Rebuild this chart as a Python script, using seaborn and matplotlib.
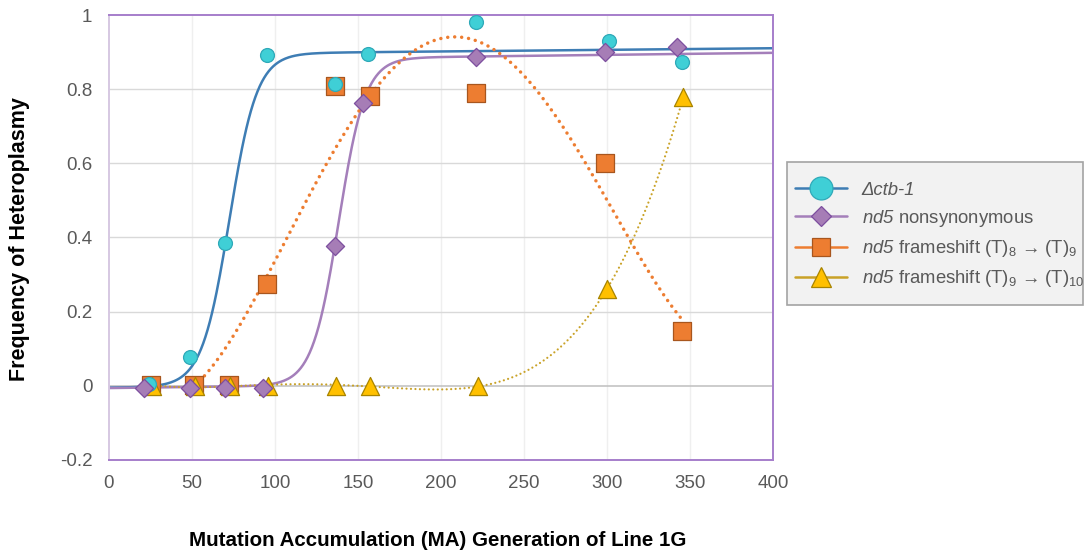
import numpy as np
import pandas as pd
import matplotlib
matplotlib.use("Agg")
import matplotlib.pyplot as plt
from matplotlib.lines import Line2D
from matplotlib.patches import Rectangle
import seaborn as sns

# Heteroplasmy frequency per MA generation, line 1G
ctb_gen = [24, 49, 70, 95, 136, 156, 221, 301, 345]
ctb_freq = [0.005, 0.078, 0.386, 0.892, 0.814, 0.895, 0.981, 0.930, 0.873]

nonsyn_gen = [21, 49, 70, 93, 136, 153, 221, 299, 342]
nonsyn_freq = [-0.005, -0.005, -0.005, -0.005, 0.377, 0.763, 0.887, 0.900, 0.914]

fs89_gen = [25, 51, 72, 95, 136, 157, 221, 299, 345]
fs89_freq = [0.003, 0.003, 0.003, 0.275, 0.809, 0.782, 0.790, 0.601, 0.148]

fs910_gen = [26, 52, 73, 96, 137, 157, 222, 300, 346]
fs910_freq = [0.0, 0.0, 0.0, 0.0, 0.0, 0.0, 0.0, 0.26, 0.78]

# Sigmoid trend parameters: baseline, amplitude, midpoint, scale, plateau drift
ctb_sigmoid = (-0.005, 0.898, 72.5, 8.3, 4.35e-5)
nonsyn_sigmoid = (-0.006, 0.882, 138.4, 8.0, 5.5e-5)
poly_order = 4

x_ticks = [0, 50, 100, 150, 200, 250, 300, 350, 400]
y_ticks = [-0.2, 0, 0.2, 0.4, 0.6, 0.8, 1.0]

ARROW = "\u2192"
labels = [
    "\u0394ctb-1",
    r"$\mathsf{nd5}$ nonsynonymous",
    r"$\mathsf{nd5}$ frameshift (T)$_{8}$ " + ARROW + r" (T)$_{9}$",
    r"$\mathsf{nd5}$ frameshift (T)$_{9}$ " + ARROW + r" (T)$_{10}$",
]

sns.set_theme(style="white")
plt.rcParams["font.family"] = ["Liberation Sans", "DejaVu Sans"]
plt.rcParams["mathtext.fontset"] = "custom"
plt.rcParams["mathtext.rm"] = "Liberation Sans"
plt.rcParams["mathtext.sf"] = "Liberation Sans:italic"
plt.rcParams["mathtext.it"] = "Liberation Sans:italic"
plt.rcParams["mathtext.default"] = "regular"
plt.rcParams["axes.unicode_minus"] = False

C_CTB_LINE, C_CTB_FILL, C_CTB_EDGE = "#3E7DB4", "#3FCFD6", "#2FA9B8"
C_NS_LINE, C_NS_FILL, C_NS_EDGE = "#A47FBA", "#A67DB6", "#7D4E9F"
C_F8_LINE, C_F8_FILL, C_F8_EDGE = "#ED7D31", "#ED7D31", "#A8561E"
C_F9_LINE, C_F9_FILL, C_F9_EDGE = "#C9A227", "#FFC000", "#A88400"
TXT = "#595959"


def sigmoid(x, p):
    base, amp, mid, scale, drift = p
    return base + amp / (1.0 + np.exp(-(x - mid) / scale)) + drift * x


fig = plt.figure(figsize=(10.84, 5.57), dpi=100)
ax = fig.add_axes([109 / 1084, 1 - 460 / 557, 664 / 1084, 445 / 557])

# Trend curves
xs_full = np.linspace(0, 400, 600)
sig_df = pd.DataFrame({
    "x": np.concatenate([xs_full, xs_full]),
    "y": np.concatenate([sigmoid(xs_full, ctb_sigmoid), sigmoid(xs_full, nonsyn_sigmoid)]),
    "s": ["ctb"] * len(xs_full) + ["nonsyn"] * len(xs_full),
})
sns.lineplot(data=sig_df[sig_df.s == "ctb"], x="x", y="y", ax=ax, color=C_CTB_LINE,
             lw=1.8, zorder=2, estimator=None, sort=False)
sns.lineplot(data=sig_df[sig_df.s == "nonsyn"], x="x", y="y", ax=ax, color=C_NS_LINE,
             lw=1.8, zorder=2, estimator=None, sort=False)

xo = np.linspace(min(fs89_gen), max(fs89_gen), 400)
yo = np.polyval(np.polyfit(fs89_gen, fs89_freq, poly_order), xo)
n_before = len(ax.lines)
sns.lineplot(x=xo, y=yo, ax=ax, color=C_F8_LINE, lw=2.5, linestyle=(0, (0.01, 2.0)),
             dash_capstyle="round", zorder=2, estimator=None, sort=False)
# the frameshift (T)8 trend is only shown above the zero baseline
baseline_clip = Rectangle((0, 0), 400, 1.2, transform=ax.transData)
for ln in ax.lines[n_before:]:
    ln.set_clip_path(baseline_clip)

xy = np.linspace(min(fs910_gen), max(fs910_gen), 400)
yy = np.polyval(np.polyfit(fs910_gen, fs910_freq, poly_order), xy)
sns.lineplot(x=xy, y=yy, ax=ax, color=C_F9_LINE, lw=1.6, linestyle=(0, (0.01, 2.0)),
             dash_capstyle="round", zorder=2, estimator=None, sort=False)

# Data markers
sns.scatterplot(x=fs89_gen, y=fs89_freq, ax=ax, marker="s", s=160, color=C_F8_FILL,
                edgecolor=C_F8_EDGE, linewidth=0.9, zorder=3)
sns.scatterplot(x=fs910_gen, y=fs910_freq, ax=ax, marker="^", s=170, color=C_F9_FILL,
                edgecolor=C_F9_EDGE, linewidth=0.9, zorder=4)
sns.scatterplot(x=ctb_gen, y=ctb_freq, ax=ax, marker="o", s=100, color=C_CTB_FILL,
                edgecolor=C_CTB_EDGE, linewidth=0.9, zorder=5)
sns.scatterplot(x=nonsyn_gen, y=nonsyn_freq, ax=ax, marker="D", s=86, color=C_NS_FILL,
                edgecolor=C_NS_EDGE, linewidth=0.9, zorder=6)

# Axes styling
ax.set_xlim(0, 400)
ax.set_ylim(-0.2, 1.0)
ax.set_xticks(x_ticks)
ax.set_yticks(y_ticks)
ax.set_xticklabels([f"{v:g}" for v in x_ticks])
ax.set_yticklabels([f"{v:g}" for v in y_ticks])
ax.tick_params(axis="both", length=0, labelsize=13.5, labelcolor=TXT)
ax.tick_params(axis="y", pad=12)
ax.tick_params(axis="x", pad=11)
ax.set_xlabel("")
ax.set_ylabel("")
for v in x_ticks[1:-1]:
    ax.axvline(v, color="#EFEFEF", lw=1.0, zorder=0)
for v in y_ticks:
    if v not in (-0.2, 0, 1.0):
        ax.axhline(v, color="#D9D9D9", lw=1.0, zorder=0)
ax.axhline(0, color="#BFBFBF", lw=1.1, zorder=1)
for side in ("top", "right", "bottom"):
    ax.spines[side].set_color("#A67ECB")
    ax.spines[side].set_linewidth(1.4)
ax.spines["left"].set_color("#D6C8E2")
ax.spines["left"].set_linewidth(1.4)

fig.text(438 / 1084, 1 - 540 / 557, "Mutation Accumulation (MA) Generation of Line 1G",
         ha="center", va="center", fontsize=14.8, fontweight="bold", color="black")
fig.text(20 / 1084, 1 - 239 / 557, "Frequency of Heteroplasmy", rotation=90,
         ha="center", va="center", fontsize=15.5, fontweight="bold", color="black")

# Legend panel
fig.patches.append(Rectangle((787 / 1084, 1 - 305 / 557), 296 / 1084, 143 / 557,
                             transform=fig.transFigure, facecolor="#F2F2F2",
                             edgecolor="#A3A3A3", lw=1.2, zorder=1))
handles = [
    Line2D([], [], color=C_CTB_LINE, lw=1.8, marker="o", ms=16.5,
           markerfacecolor=C_CTB_FILL, markeredgecolor=C_CTB_EDGE, markeredgewidth=0.9),
    Line2D([], [], color=C_NS_LINE, lw=1.8, marker="D", ms=10.5,
           markerfacecolor=C_NS_FILL, markeredgecolor=C_NS_EDGE, markeredgewidth=0.9),
    Line2D([], [], color=C_F8_LINE, lw=1.8, marker="s", ms=13,
           markerfacecolor=C_F8_FILL, markeredgecolor=C_F8_EDGE, markeredgewidth=0.9),
    Line2D([], [], color=C_F9_LINE, lw=1.8, marker="^", ms=15,
           markerfacecolor=C_F9_FILL, markeredgecolor=C_F9_EDGE, markeredgewidth=0.9),
]
leg = fig.legend(handles, labels, loc="center left",
                 bbox_to_anchor=(795 / 1084, 1 - 235.5 / 557), frameon=False,
                 borderpad=0, borderaxespad=0, fontsize=13.3, handlelength=2.8,
                 handletextpad=0.8, labelspacing=0.5, labelcolor=TXT)
leg.set_zorder(5)
leg.get_texts()[0].set_style("italic")

fig.savefig("out.png", dpi=100)
